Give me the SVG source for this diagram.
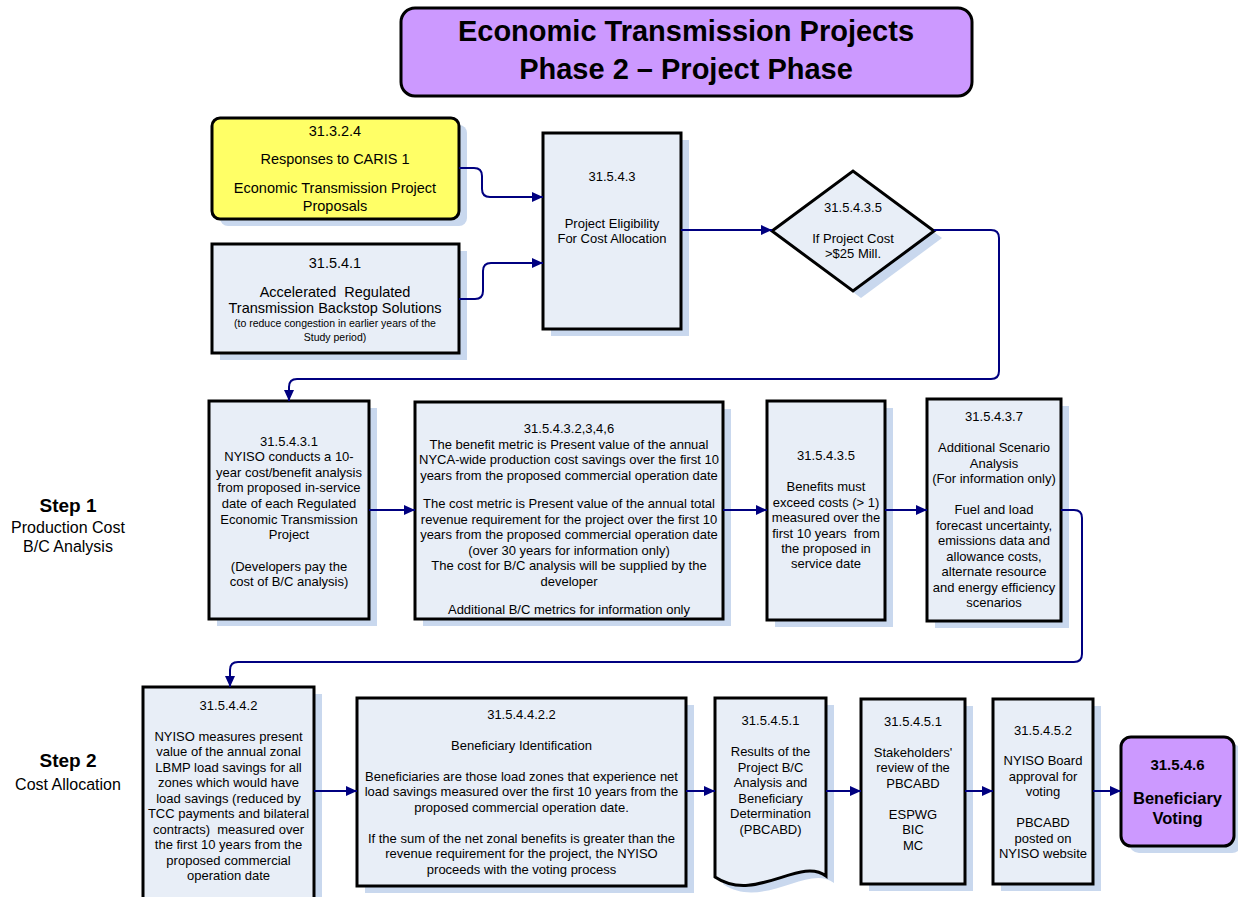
<svg xmlns="http://www.w3.org/2000/svg" width="1238" height="897" viewBox="0 0 1238 897">
<style>
.box{fill:#E8EEF7;stroke:#000;stroke-width:3}
.sh{fill:#C9D8EE}
.t{font-family:"Liberation Sans",Arial,sans-serif;font-size:13px;fill:#000;text-anchor:middle}
.big{font-size:14.5px}
.sm{font-size:10.5px}
.b{font-weight:bold}
.con{fill:none;stroke:#000080;stroke-width:2}
</style>
<defs>
<marker id="ah" markerUnits="userSpaceOnUse" markerWidth="12" markerHeight="10" refX="11" refY="5" orient="auto">
<path d="M0,0 L11,5 L0,10 Z" fill="#000080"/>
</marker>
</defs>
<rect width="1238" height="897" fill="#fff"/>

<g id="title">
<rect x="401" y="8" width="571" height="88" rx="14" fill="#CC99FF" stroke="#000" stroke-width="3"/>
<text class="t b" x="686" y="41" style="font-size:29px">Economic Transmission Projects</text>
<text class="t b" x="686" y="79" style="font-size:29px">Phase 2 – Project Phase</text>
</g>

<g id="step1">
<text class="t b" x="68" y="512" style="font-size:19px">Step 1</text>
<text class="t" x="68" y="533" style="font-size:16px">Production Cost</text>
<text class="t" x="68" y="552" style="font-size:16px">B/C Analysis</text>
</g>
<g id="step2">
<text class="t b" x="68" y="767" style="font-size:19px">Step 2</text>
<text class="t" x="68" y="790" style="font-size:16px">Cost Allocation</text>
</g>

<g id="n313224">
<rect class="sh" x="220" y="125" width="247" height="101" rx="8"/>
<rect x="212" y="118" width="247" height="101" rx="8" fill="#FFFF66" stroke="#000" stroke-width="3"/>
<text class="t big" x="335" y="136">31.3.2.4</text>
<text class="t big" x="335" y="164">Responses to CARIS 1</text>
<text class="t big" x="335" y="193">Economic Transmission Project</text>
<text class="t big" x="335" y="211">Proposals</text>
</g>

<g id="n31541">
<rect class="sh" x="220" y="251" width="247" height="109"/>
<rect class="box" x="212" y="244" width="247" height="109"/>
<text class="t big" x="335" y="268">31.5.4.1</text>
<text class="t big" x="335" y="297" xml:space="preserve">Accelerated  Regulated</text>
<text class="t big" x="335" y="313">Transmission Backstop Solutions</text>
<text class="t sm" x="335" y="327">(to reduce congestion in earlier years of the</text>
<text class="t sm" x="335" y="341">Study period)</text>
</g>

<g id="n31543">
<rect class="sh" x="551" y="140" width="138" height="196"/>
<rect class="box" x="543" y="133" width="138" height="196"/>
<text class="t" x="612" y="180.5">31.5.4.3</text>
<text class="t" x="612" y="227.5">Project Eligibility</text>
<text class="t" x="612" y="242.5">For Cost Allocation</text>
</g>

<g id="n315435d">
<polygon class="sh" points="780,238 861,178 942,238 861,298"/>
<polygon class="box" points="772,231 853,171 934,231 853,291"/>
<text class="t" x="853" y="211.5">31.5.4.3.5</text>
<text class="t" x="853" y="242.5">If Project Cost</text>
<text class="t" x="853" y="257.5">&gt;$25 Mill.</text>
</g>

<g id="n315431">
<rect class="sh" x="217" y="408" width="160" height="218"/>
<rect class="box" x="209" y="401" width="160" height="218"/>
<text class="t" x="289" y="445.5">31.5.4.3.1</text>
<text class="t" x="289" y="461">NYISO conducts a 10-</text>
<text class="t" x="289" y="476.5">year cost/benefit analysis</text>
<text class="t" x="289" y="492">from proposed in-service</text>
<text class="t" x="289" y="508">date of each Regulated</text>
<text class="t" x="289" y="523.5">Economic Transmission</text>
<text class="t" x="289" y="539">Project</text>
<text class="t" x="289" y="570.5">(Developers pay the</text>
<text class="t" x="289" y="586">cost of B/C analysis)</text>
</g>

<g id="n315432">
<rect class="sh" x="423" y="409" width="308" height="217"/>
<rect class="box" x="415" y="402" width="308" height="217"/>
<text class="t" x="569" y="433">31.5.4.3.2,3,4,6</text>
<text class="t" x="569" y="448.5">The benefit metric is Present value of the annual</text>
<text class="t" x="569" y="464">NYCA-wide production cost savings over the first 10</text>
<text class="t" x="569" y="479.5">years from the proposed commercial operation date</text>
<text class="t" x="569" y="508">The cost metric is Present value of the annual total</text>
<text class="t" x="569" y="523.5">revenue requirement for the project over the first 10</text>
<text class="t" x="569" y="539">years from the proposed commercial operation date</text>
<text class="t" x="569" y="554.5">(over 30 years for information only)</text>
<text class="t" x="569" y="570">The cost for B/C analysis will be supplied by the</text>
<text class="t" x="569" y="585.5">developer</text>
<text class="t" x="569" y="613.5">Additional B/C metrics for information only</text>
</g>

<g id="n315435">
<rect class="sh" x="775" y="408" width="118" height="219"/>
<rect class="box" x="767" y="401" width="118" height="219"/>
<text class="t" x="826" y="460">31.5.4.3.5</text>
<text class="t" x="826" y="491">Benefits must</text>
<text class="t" x="826" y="506.5">exceed costs (&gt; 1)</text>
<text class="t" x="826" y="522">measured over the</text>
<text class="t" x="826" y="537.5" xml:space="preserve">first 10 years  from</text>
<text class="t" x="826" y="553">the proposed in</text>
<text class="t" x="826" y="568">service date</text>
</g>

<g id="n315437">
<rect class="sh" x="935" y="406" width="134" height="222"/>
<rect class="box" x="927" y="399" width="134" height="222"/>
<text class="t" x="994" y="421">31.5.4.3.7</text>
<text class="t" x="994" y="452">Additional Scenario</text>
<text class="t" x="994" y="467.5">Analysis</text>
<text class="t" x="994" y="483">(For information only)</text>
<text class="t" x="994" y="514">Fuel and load</text>
<text class="t" x="994" y="529.5">forecast uncertainty,</text>
<text class="t" x="994" y="545">emissions data and</text>
<text class="t" x="994" y="560.5">allowance costs,</text>
<text class="t" x="994" y="576">alternate resource</text>
<text class="t" x="994" y="591.5">and energy efficiency</text>
<text class="t" x="994" y="607">scenarios</text>
</g>

<g id="n315442">
<rect class="sh" x="151" y="694" width="171" height="215"/>
<rect class="box" x="143" y="687" width="171" height="215"/>
<text class="t" x="228.5" y="709.5">31.5.4.4.2</text>
<text class="t" x="228.5" y="740.5">NYISO measures present</text>
<text class="t" x="228.5" y="756">value of the annual zonal</text>
<text class="t" x="228.5" y="771.5">LBMP load savings for all</text>
<text class="t" x="228.5" y="787">zones which would have</text>
<text class="t" x="228.5" y="802.5">load savings (reduced by</text>
<text class="t" x="228.5" y="818">TCC payments and bilateral</text>
<text class="t" x="228.5" y="833.5" xml:space="preserve">contracts)  measured over</text>
<text class="t" x="228.5" y="849">the first 10 years from the</text>
<text class="t" x="228.5" y="864.5">proposed commercial</text>
<text class="t" x="228.5" y="880">operation date</text>
</g>

<g id="n3154422">
<rect class="sh" x="365" y="705" width="329" height="188"/>
<rect class="box" x="357" y="698" width="329" height="188"/>
<text class="t" x="521.5" y="718.5">31.5.4.4.2.2</text>
<text class="t" x="521.5" y="749.5">Beneficiary Identification</text>
<text class="t" x="521.5" y="780.5">Beneficiaries are those load zones that experience net</text>
<text class="t" x="521.5" y="796">load savings measured over the first 10 years from the</text>
<text class="t" x="521.5" y="811.5">proposed commercial operation date.</text>
<text class="t" x="521.5" y="842.5">If the sum of the net zonal benefits is greater than the</text>
<text class="t" x="521.5" y="858">revenue requirement for the project, the NYISO</text>
<text class="t" x="521.5" y="873.5">proceeds with the voting process</text>
</g>

<g id="n315451doc">
<path class="sh" d="M723,705 H834 V883 C808,863 763,911 723,884 Z"/>
<path class="box" d="M715,698 H826 V876 C800,856 755,904 715,877 Z"/>
<text class="t" x="770.5" y="725">31.5.4.5.1</text>
<text class="t" x="770.5" y="756">Results of the</text>
<text class="t" x="770.5" y="771.5">Project B/C</text>
<text class="t" x="770.5" y="787">Analysis and</text>
<text class="t" x="770.5" y="802.5">Beneficiary</text>
<text class="t" x="770.5" y="818">Determination</text>
<text class="t" x="770.5" y="833.5">(PBCABD)</text>
</g>

<g id="n315451">
<rect class="sh" x="869" y="706" width="104" height="185"/>
<rect class="box" x="861" y="699" width="104" height="185"/>
<text class="t" x="913" y="725.5">31.5.4.5.1</text>
<text class="t" x="913" y="756.5">Stakeholders'</text>
<text class="t" x="913" y="772">review of the</text>
<text class="t" x="913" y="787.5">PBCABD</text>
<text class="t" x="913" y="818.5">ESPWG</text>
<text class="t" x="913" y="834">BIC</text>
<text class="t" x="913" y="849.5">MC</text>
</g>

<g id="n315452">
<rect class="sh" x="1001" y="706" width="100" height="185"/>
<rect class="box" x="993" y="699" width="100" height="185"/>
<text class="t" x="1043" y="734.5">31.5.4.5.2</text>
<text class="t" x="1043" y="765">NYISO Board</text>
<text class="t" x="1043" y="780.5">approval for</text>
<text class="t" x="1043" y="796">voting</text>
<text class="t" x="1043" y="827">PBCABD</text>
<text class="t" x="1043" y="842.5">posted on</text>
<text class="t" x="1043" y="858">NYISO website</text>
</g>

<g id="n31546">
<rect class="sh" x="1129" y="744" width="113" height="109" rx="10"/>
<rect x="1121" y="737" width="113" height="109" rx="10" fill="#CC99FF" stroke="#000" stroke-width="3"/>
<text class="t b" x="1177.5" y="769.5" style="font-size:15px">31.5.4.6</text>
<text class="t b" x="1177.5" y="804" style="font-size:16.5px">Beneficiary</text>
<text class="t b" x="1177.5" y="824" style="font-size:16.5px">Voting</text>
</g>

<g id="connectors">
<path class="con" marker-end="url(#ah)" d="M459,168 H474 Q482,168 482,176 V189 Q482,197 490,197 H543"/>
<path class="con" marker-end="url(#ah)" d="M459,299 H475 Q483,299 483,291 V271 Q483,263 491,263 H543"/>
<path class="con" marker-end="url(#ah)" d="M681,230 H772"/>
<path class="con" marker-end="url(#ah)" d="M934,230 H991 Q999,230 999,238 V371 Q999,379 991,379 H297 Q289,379 289,387 V401"/>
<path class="con" marker-end="url(#ah)" d="M369,510 H415"/>
<path class="con" marker-end="url(#ah)" d="M723,510 H767"/>
<path class="con" marker-end="url(#ah)" d="M885,510 H927"/>
<path class="con" marker-end="url(#ah)" d="M1061,510 H1074 Q1082,510 1082,518 V654 Q1082,662 1074,662 H238 Q230,662 230,670 V687"/>
<path class="con" marker-end="url(#ah)" d="M314,791 H357"/>
<path class="con" marker-end="url(#ah)" d="M686,791 H715"/>
<path class="con" marker-end="url(#ah)" d="M826,791 H861"/>
<path class="con" marker-end="url(#ah)" d="M965,791 H993"/>
<path class="con" marker-end="url(#ah)" d="M1093,791 H1121"/>
</g>
</svg>
